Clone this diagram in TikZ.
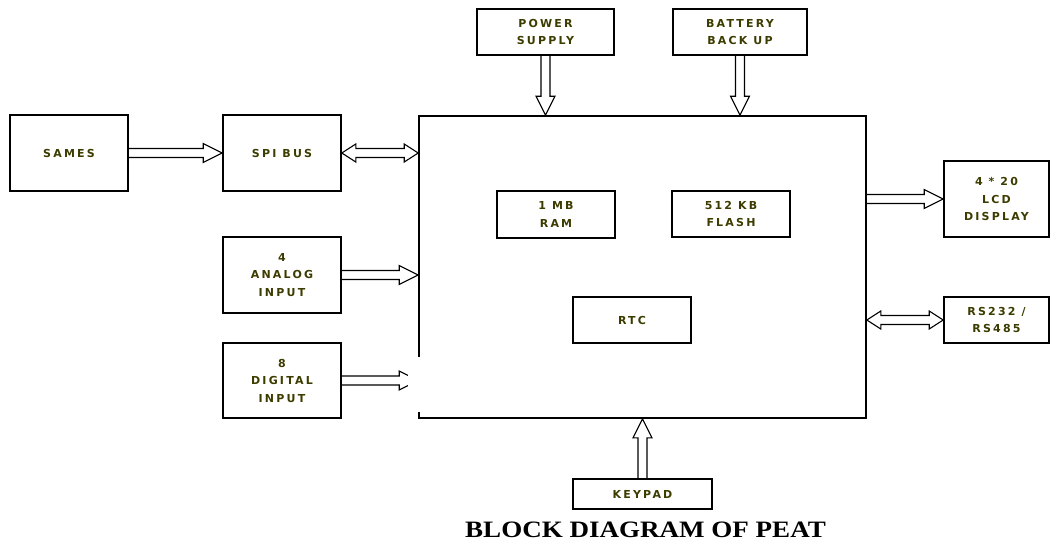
\documentclass[tikz,border=0pt]{standalone}
\usepackage{fontspec}
\usepackage{graphicx}
\usetikzlibrary{calc}
\newfontfamily\lblfont{DejaVu Sans}[LetterSpace=20]
\newfontfamily\titlefont{Liberation Serif}
\definecolor{txt}{RGB}{60,60,0}
\tikzset{
  box/.style={draw, line width=1.6pt, inner sep=0pt, align=center, text=txt,
    font=\lblfont\bfseries\fontsize{11}{17.5}\selectfont},
  harrow/.style={line width=1.1pt, line join=miter, to path={
    ($(\tikztostart)!4.5pt!90:(\tikztotarget)$)
    -- ($(\tikztotarget)!19pt!(\tikztostart)!4.5pt!-90:(\tikztostart)$)
    -- ($(\tikztotarget)!19pt!(\tikztostart)!9.5pt!-90:(\tikztostart)$)
    -- (\tikztotarget)
    -- ($(\tikztotarget)!19pt!(\tikztostart)!9.5pt!90:(\tikztostart)$)
    -- ($(\tikztotarget)!19pt!(\tikztostart)!4.5pt!90:(\tikztostart)$)
    -- ($(\tikztostart)!4.5pt!-90:(\tikztotarget)$)
  }},
  darrow/.style={line width=1.1pt, line join=miter, to path={
    (\tikztostart)
    -- ($(\tikztostart)!14pt!(\tikztotarget)!9pt!90:(\tikztotarget)$)
    -- ($(\tikztostart)!14pt!(\tikztotarget)!4.5pt!90:(\tikztotarget)$)
    -- ($(\tikztotarget)!14pt!(\tikztostart)!4.5pt!-90:(\tikztostart)$)
    -- ($(\tikztotarget)!14pt!(\tikztostart)!9pt!-90:(\tikztostart)$)
    -- (\tikztotarget)
    -- ($(\tikztotarget)!14pt!(\tikztostart)!9pt!90:(\tikztostart)$)
    -- ($(\tikztotarget)!14pt!(\tikztostart)!4.5pt!90:(\tikztostart)$)
    -- ($(\tikztostart)!14pt!(\tikztotarget)!4.5pt!-90:(\tikztotarget)$)
    -- ($(\tikztostart)!14pt!(\tikztotarget)!9pt!-90:(\tikztotarget)$)
    -- cycle
  }}
}
\begin{document}
\begin{tikzpicture}[x=1pt,y=-1pt]
\useasboundingbox (0,0) rectangle (1052,542);
% boxes
\node[box, minimum width=447pt, minimum height=302pt] (main) at (642.5,267) {};
\node[box, minimum width=118pt, minimum height=76pt] (sames) at (69,153) {SAMES};
\node[box, minimum width=118pt, minimum height=76pt] (spi) at (282,153) {SPI BUS};
\node[box, minimum width=118pt, minimum height=76pt] (analog) at (282,275) {4\\ANALOG\\INPUT};
\node[box, minimum width=118pt, minimum height=75pt] (digital) at (282,380.5) {8\\DIGITAL\\INPUT};
\node[box, minimum width=137pt, minimum height=46pt] (power) at (545.5,32) {POWER\\SUPPLY};
\node[box, minimum width=134pt, minimum height=46pt] (battery) at (740,32) {BATTERY\\BACK UP};
\node[box, minimum width=118pt, minimum height=47pt] (ram) at (556,214.5) {1 MB\\RAM};
\node[box, minimum width=118pt, minimum height=46pt] (flash) at (731,214) {512 KB\\FLASH};
\node[box, minimum width=118pt, minimum height=46pt] (rtc) at (632,320) {RTC};
\node[box, minimum width=105pt, minimum height=76pt] (lcd) at (996.5,199) {4 * 20\\LCD\\DISPLAY};
\node[box, minimum width=105pt, minimum height=46pt] (rs) at (996.5,320) {RS232 /\\RS485};
\node[box, minimum width=139pt, minimum height=30pt] (keypad) at (642.5,494) {KEYPAD};
% connector end points on the main box
\coordinate (pA) at (spi.east -| main.west);
\coordinate (pB) at (analog.east -| main.west);
\coordinate (pC) at (digital.east -| main.west);
\coordinate (pD) at (lcd.west -| main.east);
\coordinate (pE) at (rs.west -| main.east);
\coordinate (pF) at (power.south |- main.north);
\coordinate (pG) at (battery.south |- main.north);
\coordinate (pH) at (keypad.north |- main.south);
% connectors
\draw[harrow] (sames.east) to (spi.west);
\draw[darrow] (spi.east) to (pA);
\draw[harrow] (analog.east) to (pB);
\draw[harrow] (digital.east) to (pC);
\draw[harrow] (pD) to (lcd.west);
\draw[darrow] (pE) to (rs.west);
\draw[harrow] (power.south) to (pF);
\draw[harrow] (battery.south) to (pG);
\draw[harrow] (keypad.north) to (pH);
% blank patch over the lower left of the main box
\fill[white] (408,357) rectangle (832,412);
% title
\node[font=\titlefont\bfseries\fontsize{23.5}{23.5}\selectfont] (title) at (645.5,530)
  {\scalebox{1.15}[1]{BLOCK DIAGRAM OF PEAT}};
\end{tikzpicture}
\end{document}
